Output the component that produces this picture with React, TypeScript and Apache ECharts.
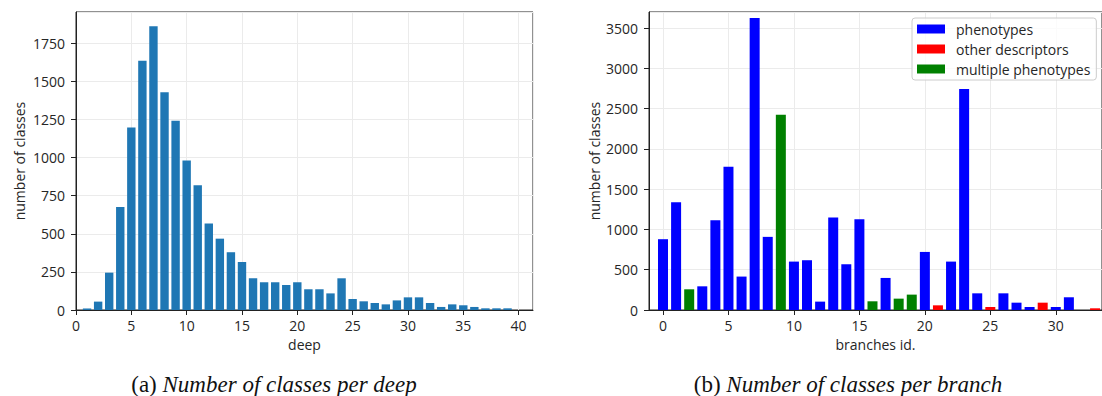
import React, { useEffect, useRef } from "react";
import * as echarts from "echarts";

// ---- Data: left chart (classes per deep) ----
const deepLevels = [
  1, 2, 3, 4, 5, 6, 7, 8, 9, 10, 11, 12, 13, 14, 15, 16, 17, 18, 19, 20,
  21, 22, 23, 24, 25, 26, 27, 28, 29, 30, 31, 32, 33, 34, 35, 36, 37, 38, 39,
];
const deepCounts = [
  10, 55, 245, 676, 1197, 1636, 1862, 1429, 1241, 980, 818, 567, 468, 379, 315,
  208, 182, 182, 164, 182, 136, 136, 109, 208, 72, 57, 46, 37, 63, 83, 83, 46,
  20, 37, 31, 20, 11, 11, 11,
];

// ---- Data: right chart (classes per branch) ----
const branchIds = [
  0, 1, 2, 3, 4, 5, 6, 7, 8, 9, 10, 11, 12, 13, 14, 15, 16, 17, 18, 19, 20,
  21, 22, 23, 24, 25, 26, 27, 28, 29, 30, 31, 32, 33,
];
const branchCounts = [
  879, 1339, 257, 294, 1115, 1779, 415, 3625, 908, 2425, 601, 618, 104, 1148,
  568, 1128, 108, 398, 141, 191, 721, 58, 601, 2745, 207, 37, 207, 91, 37, 91,
  37, 158, 0, 21,
];
// P = phenotypes, O = other descriptors, M = multiple phenotypes
const branchTypes = [
  "P", "P", "M", "P", "P", "P", "P", "P", "P", "M", "P", "P", "P", "P", "P",
  "P", "M", "P", "M", "M", "P", "O", "P", "P", "P", "O", "P", "P", "P", "O",
  "P", "P", "P", "O",
];
const seriesNames = ["phenotypes", "other descriptors", "multiple phenotypes"];
const seriesCodes = ["P", "O", "M"];
const seriesColors = ["#0000ff", "#ff0000", "#008000"];

const deepTicks = { min: 0, max: 41.3, interval: 5 };
const deepYTicks = { min: 0, max: 1955, interval: 250 };
const branchYTicks = { min: 0, max: 3700, interval: 500 };

const FONT = "Open Sans";
const TXT = "#262626";

const plain = (v: number) => String(Math.round(v));

function axisCommon() {
  return {
    axisLine: { show: true, onZero: false, lineStyle: { color: "#222", width: 1 } },
    axisTick: { show: true, length: 5, lineStyle: { color: "#222" } },
    splitLine: { show: true, lineStyle: { color: "#ebebeb", width: 1 } },
    nameTextStyle: { fontFamily: FONT, fontSize: 14, color: TXT },
  };
}

function labelStyle(margin: number, extra: object = {}) {
  return { margin, fontFamily: FONT, fontSize: 14, color: TXT, formatter: plain, showMaxLabel: false, ...extra };
}

export default function App() {
  const ref = useRef<HTMLDivElement>(null);
  useEffect(() => {
    const chart = echarts.init(ref.current!, null, { renderer: "svg" });
    const rightSeries = seriesNames.map((name, si) => ({
      name,
      type: "bar",
      xAxisIndex: 1,
      yAxisIndex: 1,
      barWidth: 10,
      barGap: "-100%",
      itemStyle: { color: seriesColors[si] },
      data: branchIds
        .map((id, i) => (branchTypes[i] === seriesCodes[si] ? [id, branchCounts[i]] : null))
        .filter((d) => d !== null),
    }));
    const caption = (label: string, title: string, x: number) => ({
      type: "text",
      x,
      y: 384,
      style: {
        text: `{u|${label} }{i|${title}}`,
        align: "center",
        verticalAlign: "middle",
        rich: {
          u: { fontFamily: "Liberation Serif", fontSize: 23, fontStyle: "normal", fill: "#111" },
          i: { fontFamily: "Liberation Serif", fontSize: 23, fontStyle: "italic", fill: "#111" },
        },
      },
    });
    chart.setOption({
      animation: false,
      backgroundColor: "#ffffff",
      grid: [
        { left: 76, right: 569, top: 12, bottom: 86, show: true, borderColor: "#222", borderWidth: 1 },
        { left: 649, right: -1, top: 12, bottom: 86, show: true, borderColor: "#222", borderWidth: 1 },
      ],
      xAxis: [
        {
          type: "value",
          gridIndex: 0,
          min: deepTicks.min,
          max: deepTicks.max,
          interval: deepTicks.interval,
          ...axisCommon(),
          axisLabel: labelStyle(8),
          name: "deep",
          nameLocation: "middle",
          nameGap: 27,
        },
        {
          type: "value",
          gridIndex: 1,
          min: -1.07,
          max: 33.53,
          splitNumber: 7,
          ...axisCommon(),
          axisLabel: labelStyle(8, { showMinLabel: false }),
          name: "branches id.",
          nameLocation: "middle",
          nameGap: 27,
        },
      ],
      yAxis: [
        {
          type: "value",
          gridIndex: 0,
          min: deepYTicks.min,
          max: deepYTicks.max,
          interval: deepYTicks.interval,
          ...axisCommon(),
          axisLabel: labelStyle(11),
          name: "number of classes",
          nameLocation: "middle",
          nameGap: 50,
        },
        {
          type: "value",
          gridIndex: 1,
          min: branchYTicks.min,
          max: branchYTicks.max,
          interval: branchYTicks.interval,
          ...axisCommon(),
          axisLabel: labelStyle(11),
          name: "number of classes",
          nameLocation: "middle",
          nameGap: 48,
        },
      ],
      legend: {
        data: seriesNames,
        orient: "vertical",
        left: 912,
        top: 18,
        itemWidth: 28,
        itemHeight: 9,
        itemGap: 6,
        icon: "rect",
        padding: [4, 6, 4, 5],
        borderColor: "#cccccc",
        borderWidth: 1,
        borderRadius: 3,
        backgroundColor: "rgba(255,255,255,0.8)",
        itemStyle: { borderWidth: 0 },
        textStyle: { fontFamily: FONT, fontSize: 14, color: TXT, padding: [0, 0, 0, 6] },
      },
      series: [
        {
          name: "deep",
          type: "bar",
          xAxisIndex: 0,
          yAxisIndex: 0,
          barWidth: 8.4,
          itemStyle: { color: "#1f77b4" },
          data: deepLevels.map((d, i) => [d, deepCounts[i]]),
        },
        ...rightSeries,
      ],
      graphic: [
        caption("(a)", "Number of classes per deep", 274),
        caption("(b)", "Number of classes per branch", 848),
      ],
    });
    return () => chart.dispose();
  }, []);
  return (
    <div
      ref={ref}
      style={{ position: "absolute", left: 0, top: 0, width: 1102, height: 396 }}
    />
  );
}
